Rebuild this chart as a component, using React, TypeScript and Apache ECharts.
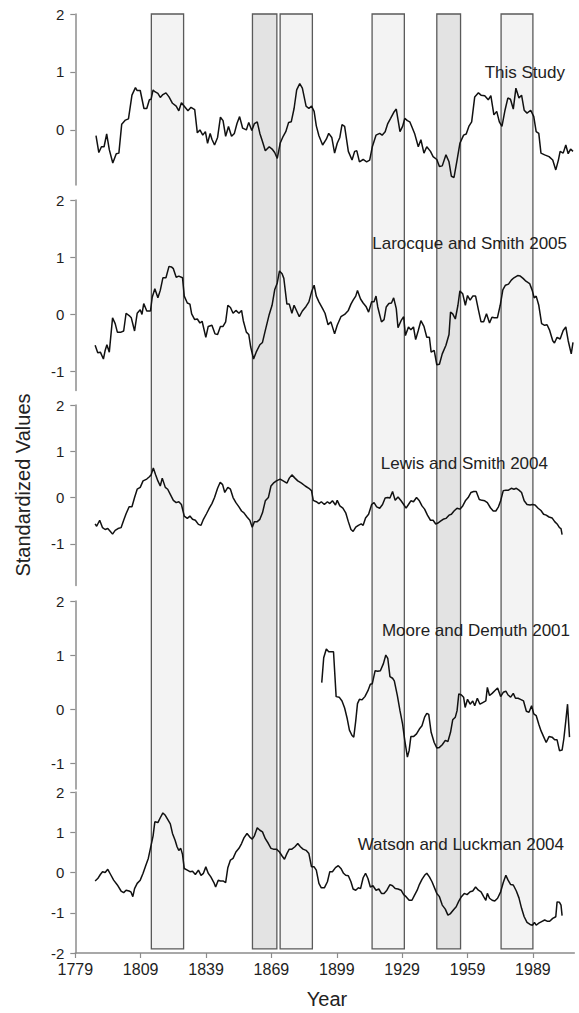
import React, { useEffect, useRef } from "react";
import * as echarts from "echarts";

// ---------- data (year, standardized value) ----------
const thisStudy: [number, number][] = [[1788.5,-0.10],[1789.8,-0.39],[1791,-0.29],[1792.2,-0.29],[1793.4,-0.07],[1794.6,-0.34],[1796.2,-0.57],[1797.8,-0.41],[1799,-0.40],[1800.3,0.10],[1802,0.17],[1803.4,0.19],[1805,0.60],[1806.6,0.73],[1807.4,0.68],[1808.8,0.68],[1810.5,0.37],[1811.8,0.37],[1813,0.52],[1813.8,0.53],[1814.7,0.69],[1815.5,0.66],[1816.9,0.63],[1818,0.56],[1819.2,0.61],[1820.6,0.64],[1822,0.57],[1823.6,0.46],[1825.3,0.41],[1826.5,0.33],[1827.7,0.47],[1829,0.41],[1830.7,0.33],[1832.1,0.39],[1833.8,0.35],[1835,-0.05],[1836.2,0],[1837.5,-0.09],[1838.7,-0.03],[1839.7,-0.23],[1840.9,-0.06],[1841.7,-0.16],[1842.9,-0.26],[1844.3,-0.13],[1845.6,0.22],[1846.8,0.16],[1848,-0.11],[1849.3,0.06],[1850.7,-0.11],[1852,-0.06],[1853.2,0.11],[1854.4,0.23],[1855.8,0.03],[1857.5,0],[1858.6,0.13],[1860,-0.01],[1861.2,0.11],[1862.5,0.14],[1863.7,-0.06],[1864.9,-0.2],[1866.2,-0.36],[1868,-0.29],[1869.3,-0.33],[1870.5,-0.39],[1871.7,-0.49],[1873,-0.23],[1874.4,-0.11],[1875.6,-0.03],[1876.9,0.13],[1878.1,0.14],[1879.4,0.37],[1880.6,0.69],[1882,0.80],[1883.2,0.72],[1884.9,0.41],[1886.2,0.37],[1887.4,0.41],[1888.6,0.32],[1889.6,0.07],[1890.8,-0.10],[1892.5,-0.26],[1894.2,-0.16],[1895.3,-0.06],[1896.7,-0.13],[1898,-0.40],[1899.2,-0.23],[1900.4,-0.13],[1901.4,0.09],[1902.6,0.06],[1904.3,-0.37],[1906,-0.52],[1907.2,-0.37],[1908.2,-0.36],[1909.4,-0.55],[1911.1,-0.51],[1912.7,-0.55],[1914.1,-0.52],[1915.3,-0.29],[1917,-0.09],[1918.7,-0.06],[1919.8,-0.09],[1921.2,-0.03],[1922.4,0.11],[1923.7,0.20],[1925.1,0.30],[1926.3,0.36],[1928,-0.03],[1929.2,0.06],[1930.2,0.20],[1931.4,0.16],[1932.5,0.14],[1933.5,0.05],[1934.7,-0.06],[1936.4,-0.29],[1937.6,-0.17],[1939,-0.40],[1940.3,-0.29],[1942,-0.37],[1943.2,-0.46],[1944.9,-0.51],[1946.1,-0.63],[1947.4,-0.62],[1949.1,-0.43],[1950.5,-0.55],[1951.6,-0.80],[1952.8,-0.82],[1954.2,-0.52],[1955.5,-0.23],[1957.2,-0.09],[1958.4,-0.07],[1959.6,0.06],[1960.9,0.14],[1962.3,0.57],[1964,0.64],[1965.2,0.60],[1966.9,0.59],[1968.5,0.52],[1969.7,0.59],[1971.1,0.26],[1972.4,0.32],[1973.6,0.14],[1974.8,0.06],[1976.2,0.34],[1977.5,0.55],[1978.7,0.53],[1980,0.36],[1981.2,0.72],[1982.6,0.55],[1983.8,0.60],[1985,0.34],[1986.3,0.29],[1988,0.34],[1989.4,0.23],[1990.5,-0.03],[1991.7,-0.06],[1992.7,-0.40],[1994.4,-0.43],[1996.4,-0.46],[1998.1,-0.52],[1999.5,-0.69],[2000.7,-0.52],[2001.5,-0.37],[2002.9,-0.40],[2004.1,-0.26],[2005.2,-0.41],[2006.3,-0.33],[2007.4,-0.37]];

const larocqueSmith2005: [number, number][] = [[1788.1,-0.54],[1789.3,-0.67],[1790.5,-0.66],[1791.9,-0.78],[1792.7,-0.63],[1793.5,-0.53],[1794.6,-0.66],[1796.1,-0.06],[1797.3,-0.16],[1798.3,-0.31],[1800,-0.31],[1801.2,-0.29],[1802.3,0.02],[1803.7,-0.02],[1804.7,-0.06],[1806.2,-0.29],[1807.4,0.02],[1808.8,0.08],[1809.6,0],[1810.4,0.19],[1811.8,0.06],[1813.5,0.06],[1814.3,0.30],[1815.5,0.45],[1816.9,0.29],[1818,0.42],[1819.2,0.64],[1820.6,0.64],[1822,0.84],[1823.1,0.83],[1824,0.80],[1825.3,0.65],[1826.5,0.67],[1828.2,0.64],[1829,0.32],[1830.4,0.20],[1831.6,0.18],[1832.4,0.01],[1833.8,-0.09],[1835,-0.08],[1836.2,-0.15],[1837.2,-0.12],[1838.9,-0.40],[1840,-0.21],[1841.7,-0.19],[1843.1,-0.34],[1844.3,-0.35],[1845.6,-0.21],[1846.8,-0.21],[1848,-0.13],[1849,0.16],[1850.2,0.12],[1851.4,0.02],[1852.7,0.07],[1854.1,0.02],[1855.3,0.07],[1856.1,-0.11],[1857.5,-0.31],[1858.6,-0.35],[1859.5,-0.57],[1860.8,-0.78],[1862,-0.66],[1863.7,-0.53],[1864.9,-0.49],[1866.2,-0.28],[1868,0],[1869.3,0.16],[1870.5,0.43],[1871.7,0.55],[1872.7,0.76],[1873.9,0.71],[1874.7,0.63],[1876.1,0.18],[1877.2,0.18],[1878.4,0.02],[1879.4,0.16],[1880.6,0.06],[1881.8,-0.04],[1883.2,0.06],[1884.9,0.14],[1886.2,0.22],[1887.4,0.39],[1888.6,0.51],[1889.6,0.32],[1890.8,0.22],[1892.5,0.10],[1893.6,0.02],[1895,-0.18],[1896.3,-0.13],[1898,-0.34],[1899.2,-0.19],[1900.9,-0.04],[1902.6,0],[1904.3,0.07],[1905.5,0.18],[1906.5,0.25],[1907.7,0.32],[1908.5,0.42],[1909.9,0.27],[1911.1,0.20],[1912.4,0.14],[1913.6,0.04],[1915,0.22],[1916.1,0.22],[1917,0.32],[1917.8,0.13],[1919.5,-0.13],[1920.7,-0.09],[1921.7,0.13],[1922.9,0.19],[1924.1,0.20],[1925.1,0.29],[1926.3,0.10],[1927.1,-0.23],[1928.5,-0.11],[1929.7,-0.04],[1930.5,-0.37],[1931.9,-0.22],[1933,-0.27],[1934.2,-0.22],[1935.2,-0.44],[1936.4,-0.28],[1937.6,-0.11],[1939,-0.21],[1940.3,-0.40],[1941.5,-0.40],[1942.3,-0.66],[1943.7,-0.63],[1944.9,-0.88],[1946.1,-0.87],[1947.4,-0.69],[1949.1,-0.54],[1950.5,-0.35],[1951.2,0.04],[1952.2,0.01],[1953.4,-0.08],[1954.6,0.16],[1955.5,0.41],[1956.8,0.36],[1958,0.16],[1959,0.33],[1960.2,0.25],[1961.4,0.32],[1962.7,0.32],[1964,0.08],[1965.2,-0.13],[1966.4,-0.13],[1967.7,0.01],[1969.1,-0.15],[1970.2,-0.05],[1971.3,-0.06],[1972.7,-0.06],[1974,0.16],[1975.2,0.43],[1976.4,0.51],[1977.8,0.53],[1979.1,0.60],[1980.3,0.64],[1982,0.68],[1983.2,0.67],[1984.5,0.63],[1985.8,0.58],[1987.5,0.54],[1988.7,0.42],[1989.6,0.29],[1990.5,0.32],[1991.7,0.16],[1993,-0.16],[1994.4,-0.19],[1995.5,-0.18],[1996.7,-0.28],[1998.1,-0.46],[1998.9,-0.50],[2000.1,-0.40],[2001.5,-0.43],[2002.9,-0.28],[2004.1,-0.22],[2005.2,-0.46],[2006.6,-0.69],[2007.4,-0.49]];

const lewisSmith2004: [number, number][] = [[1788.1,-0.57],[1788.8,-0.62],[1790.2,-0.49],[1791.5,-0.65],[1792.7,-0.69],[1793.9,-0.67],[1795.2,-0.74],[1796.1,-0.79],[1797.3,-0.71],[1798.6,-0.67],[1800,-0.65],[1801.2,-0.49],[1802.3,-0.35],[1803.7,-0.20],[1805,-0.20],[1806.2,0],[1807.4,0.18],[1808.8,0.22],[1810.1,0.36],[1811.8,0.40],[1813,0.45],[1813.8,0.49],[1814.8,0.64],[1815.9,0.49],[1816.9,0.36],[1818,0.25],[1818.9,0.42],[1820.3,0.22],[1821.4,0.18],[1822.6,0.07],[1824,-0.06],[1825.3,-0.11],[1826.5,-0.09],[1827.7,-0.15],[1829,-0.40],[1830.4,-0.45],[1831.6,-0.40],[1832.8,-0.47],[1834.1,-0.49],[1835.5,-0.58],[1836.7,-0.60],[1837.8,-0.47],[1839.2,-0.35],[1840.5,-0.23],[1841.7,-0.13],[1842.9,0],[1844.3,0.20],[1845.5,0.33],[1846.6,0.28],[1847.6,0.11],[1849,0.22],[1850.2,0.18],[1851.4,0],[1852.7,-0.11],[1854.1,-0.20],[1855.3,-0.29],[1856.4,-0.33],[1857.8,-0.42],[1859.1,-0.49],[1860.2,-0.64],[1861.2,-0.52],[1862.5,-0.52],[1863.7,-0.47],[1864.9,-0.33],[1866.2,-0.07],[1867.6,0],[1868.8,0.25],[1869.9,0.31],[1871.3,0.36],[1873,0.40],[1874.4,0.36],[1876.1,0.31],[1877.2,0.42],[1878.4,0.49],[1879.8,0.42],[1881.1,0.36],[1882.8,0.31],[1884.5,0.25],[1886.2,0.20],[1887.4,0.15],[1888.2,-0.06],[1889.6,-0.09],[1890.8,-0.13],[1891.9,-0.09],[1893.3,-0.15],[1894.7,-0.09],[1895.8,-0.13],[1897,-0.07],[1898.4,-0.16],[1899.2,-0.06],[1900.4,-0.18],[1901.8,-0.23],[1903.1,-0.33],[1904.3,-0.52],[1905.5,-0.69],[1906.5,-0.73],[1907.7,-0.64],[1908.9,-0.60],[1910.2,-0.57],[1911.1,-0.60],[1912.2,-0.44],[1913.6,-0.36],[1915,-0.15],[1916.1,-0.11],[1917.3,-0.20],[1918.7,-0.23],[1920,-0.15],[1921.2,-0.01],[1922.4,0],[1923.4,-0.01],[1924.6,0.13],[1925.8,-0.06],[1927.1,0.01],[1928.5,-0.07],[1929.7,-0.15],[1930.8,-0.23],[1931.9,-0.15],[1933,-0.07],[1934.2,-0.09],[1935.6,0],[1936.9,-0.07],[1938.1,-0.18],[1939.3,-0.25],[1940.6,-0.38],[1942,-0.49],[1943.2,-0.49],[1944.4,-0.57],[1945.4,-0.55],[1946.6,-0.51],[1947.8,-0.47],[1949.1,-0.45],[1950.5,-0.38],[1951.6,-0.36],[1952.8,-0.29],[1954.2,-0.23],[1955.5,-0.25],[1956.8,-0.18],[1958,-0.07],[1959.3,0],[1960.6,0.11],[1961.8,0.13],[1963,0.13],[1964.4,-0.04],[1965.7,-0.06],[1966.9,-0.07],[1968.1,-0.11],[1969.5,-0.22],[1970.8,-0.29],[1972,-0.29],[1973.2,-0.20],[1974.2,-0.07],[1975.4,0.15],[1976.6,0.16],[1977.8,0.16],[1979.1,0.20],[1980.3,0.18],[1981.4,0.20],[1982.6,0.16],[1983.8,0.11],[1985,-0.07],[1986.3,-0.15],[1987.7,-0.16],[1988.8,-0.15],[1990,-0.16],[1991.4,-0.23],[1992.7,-0.28],[1993.9,-0.36],[1995.1,-0.38],[1996.4,-0.42],[1997.8,-0.44],[1999,-0.52],[2000.1,-0.57],[2001.2,-0.65],[2001.9,-0.67],[2002.4,-0.80]];

const mooreDemuth2001: [number, number][] = [[1892.1,0.49],[1893,0.95],[1894.2,1.11],[1895.3,1.06],[1896.3,1.06],[1897.5,1.06],[1898.7,0.23],[1900.1,0.22],[1901.4,0.15],[1902.6,0.02],[1903.8,-0.18],[1904.8,-0.39],[1906,-0.49],[1906.8,-0.52],[1907.7,-0.22],[1908.5,0.10],[1909.4,0.18],[1910.6,0.17],[1911.9,0.23],[1913.3,0.34],[1914.4,0.46],[1915.3,0.47],[1916.6,0.71],[1917.8,0.70],[1919,0.71],[1920.4,0.84],[1921.5,1.00],[1922.4,0.94],[1923.4,0.60],[1924.6,0.57],[1925.4,0.52],[1926.8,0.25],[1928,-0.03],[1929.2,-0.28],[1930.2,-0.58],[1931.4,-0.89],[1932.2,-0.77],[1933,-0.51],[1934.2,-0.51],[1935.6,-0.46],[1936.9,-0.37],[1938.1,-0.31],[1939.3,-0.15],[1940.3,-0.08],[1941.2,-0.10],[1942.3,-0.43],[1943.7,-0.62],[1944.9,-0.72],[1946.1,-0.71],[1947.4,-0.66],[1948.8,-0.58],[1950,-0.60],[1951.2,-0.43],[1952.2,-0.20],[1953.4,-0.15],[1954.2,-0.03],[1955,0.28],[1956.2,0.26],[1957.2,0.22],[1957.9,0.03],[1959,0.18],[1960.2,0.09],[1961.4,0.15],[1962.3,0.06],[1963.5,0.20],[1964.7,0.09],[1966,0.12],[1967.4,0.15],[1968.1,0.40],[1969.1,0.25],[1970.3,0.29],[1971.5,0.34],[1972.8,0.39],[1974.2,0.23],[1975.4,0.31],[1976.6,0.33],[1977.6,0.26],[1978.8,0.22],[1980,0.29],[1981,0.20],[1982.2,0.20],[1983.3,0.18],[1984.7,0.15],[1986,-0.04],[1987.2,-0.06],[1988.4,0.06],[1989.4,-0.09],[1990.5,-0.12],[1991.7,-0.28],[1992.7,-0.40],[1993.9,-0.51],[1995.1,-0.62],[1996.4,-0.51],[1997.8,-0.52],[1999,-0.57],[2000.1,-0.57],[2001.2,-0.77],[2002.4,-0.76],[2003.2,-0.55],[2004.1,-0.22],[2004.9,0.09],[2005.8,-0.52]];

const watsonLuckman2004: [number, number][] = [[1788.1,-0.21],[1789.3,-0.15],[1790.5,-0.05],[1791.5,0.02],[1792.7,0],[1793.9,0.08],[1795.2,-0.05],[1796.6,-0.19],[1798.3,-0.31],[1800,-0.46],[1801.2,-0.50],[1802.3,-0.44],[1803.7,-0.46],[1804.5,-0.48],[1805.4,-0.60],[1806.2,-0.40],[1807.4,-0.27],[1808.8,-0.19],[1810.1,-0.02],[1811.3,0.17],[1812.5,0.35],[1813.8,0.68],[1814.7,0.91],[1815.5,1.26],[1816.9,1.24],[1818,1.36],[1819.2,1.48],[1820.3,1.42],[1821.4,1.32],[1822.6,1.21],[1823.6,0.97],[1824.8,0.80],[1825.7,0.64],[1826.5,0.55],[1827.4,0.60],[1828.2,0.45],[1829,0.10],[1830.4,0.06],[1831.6,0.02],[1832.8,0.03],[1834.1,-0.05],[1835.5,0.06],[1836.7,-0.07],[1837.8,-0.02],[1838.9,0.14],[1840,-0.02],[1841.2,-0.11],[1842.6,-0.25],[1843.4,-0.36],[1844.6,-0.19],[1845.6,-0.21],[1846.8,-0.21],[1848,-0.25],[1849,0.12],[1850.2,0.31],[1851.4,0.35],[1852.7,0.51],[1854.1,0.60],[1855.3,0.72],[1856.4,0.86],[1857.8,0.97],[1859.1,0.88],[1860.2,0.83],[1861.2,0.91],[1862.5,1.11],[1863.7,1.05],[1864.9,1.01],[1866.2,0.84],[1867.6,0.72],[1868.8,0.60],[1869.9,0.58],[1871.3,0.58],[1872.7,0.51],[1873.9,0.41],[1875,0.33],[1876.1,0.47],[1877.2,0.58],[1878.4,0.58],[1879.8,0.64],[1881.1,0.72],[1882.3,0.64],[1883.5,0.58],[1884.9,0.55],[1886.2,0.47],[1887.4,0.14],[1888.6,0.14],[1889.6,0.06],[1890.8,-0.27],[1891.9,-0.38],[1893.3,-0.38],[1894.7,-0.23],[1895.8,0.02],[1897,0.02],[1898.4,0.12],[1899.7,0.17],[1900.9,0.10],[1902.1,-0.02],[1903.1,-0.07],[1904.3,-0.08],[1905.5,-0.23],[1906.5,-0.41],[1907.7,-0.44],[1908.9,-0.38],[1909.9,-0.40],[1911.1,-0.13],[1912.2,-0.02],[1913.3,-0.15],[1914.4,-0.36],[1915.6,-0.33],[1917,-0.44],[1918.3,-0.41],[1919.5,-0.52],[1920.7,-0.52],[1922,-0.44],[1923.4,-0.30],[1924.6,-0.33],[1925.8,-0.40],[1927.1,-0.41],[1928.5,-0.44],[1929.7,-0.55],[1930.8,-0.60],[1932.2,-0.69],[1933.5,-0.69],[1934.7,-0.56],[1935.9,-0.44],[1936.9,-0.30],[1938.1,-0.17],[1939.3,-0.07],[1940.3,-0.02],[1941.5,-0.11],[1942.7,-0.23],[1944,-0.40],[1944.9,-0.52],[1946.1,-0.60],[1947.4,-0.81],[1948.8,-0.91],[1950,-1.06],[1951.2,-1.02],[1952.5,-0.93],[1953.8,-0.85],[1955,-0.71],[1956.2,-0.60],[1957.5,-0.52],[1958.8,-0.55],[1960.2,-0.48],[1961.4,-0.46],[1962.7,-0.36],[1964,-0.44],[1965.2,-0.48],[1966.4,-0.60],[1967.4,-0.69],[1968.1,-0.52],[1969.1,-0.64],[1970.3,-0.69],[1971.5,-0.71],[1972.8,-0.64],[1974.2,-0.48],[1975.4,-0.25],[1976.6,-0.07],[1977.6,-0.19],[1978.8,-0.30],[1980,-0.31],[1981.4,-0.46],[1982.6,-0.63],[1983.8,-0.89],[1985,-1.10],[1986.3,-1.24],[1987.7,-1.29],[1988.8,-1.31],[1989.7,-1.24],[1990.5,-1.31],[1991.7,-1.26],[1993,-1.22],[1994.4,-1.18],[1995.5,-1.21],[1996.7,-1.21],[1998.1,-1.14],[1999.5,-1.10],[2000.1,-0.73],[2001.2,-0.74],[2001.9,-0.81],[2002.4,-1.07]];

const seriesNames = ["This Study", "Larocque and Smith 2005", "Lewis and Smith 2004", "Moore and Demuth 2001", "Watson and Luckman 2004"];
const seriesData = [thisStudy, larocqueSmith2005, lewisSmith2004, mooreDemuth2001, watsonLuckman2004];

// shaded periods (years)
const shadedStart = [1813.9, 1860.3, 1873.0, 1915.2, 1944.9, 1974.4];
const shadedEnd = [1828.7, 1871.5, 1887.8, 1930.0, 1955.8, 1989.0];
const shadedDark = [0, 1, 0, 0, 1, 0];

const xTicks = [1779, 1809, 1839, 1869, 1899, 1929, 1959, 1989];
const yMinByPanel = [-0.95, -1.33, -1.9, -1.48, -2];
const yTicksByPanel = [[0, 1, 2], [-1, 0, 1, 2], [-1, 0, 1, 2], [-1, 0, 1, 2], [-2, -1, 0, 1, 2]];

// layout (pixels)
const panelTop = [14, 200, 405, 601, 792];
const panelHeight = [171, 190.5, 180.5, 188, 161];
const gridLeft = 75.3;
const gridRight = 4.7;
const labelRight = [565, 567, 548, 570, 564];
const labelY = [72, 243, 463, 630, 844];

const FONT = '"Liberation Sans", Arial, Helvetica, sans-serif';
const AXIS_COLOR = "#8c8c8c";
const TEXT_COLOR = "#1e1e1e";

export default function App() {
  const ref = useRef<HTMLDivElement>(null);
  useEffect(() => {
    document.body.style.margin = "0";
    if (!ref.current) return;
    const chart = echarts.init(ref.current, undefined, { renderer: "svg" });

    const grids: any[] = panelTop.map((t, i) => ({ left: gridLeft, right: gridRight, top: t, height: panelHeight[i] }));
    grids.push({ left: gridLeft, right: gridRight, top: 14, height: 939 });

    const xAxes: any[] = grids.map((_, i) => {
      const shown = i === 4;
      return {
        type: "value",
        gridIndex: i,
        min: 1779,
        max: 2008,
        show: shown,
        axisLine: { show: shown, onZero: false, lineStyle: { color: AXIS_COLOR, width: 1.5 } },
        axisTick: { show: shown, length: 5, customValues: xTicks, lineStyle: { color: AXIS_COLOR, width: 1.2 } },
        axisLabel: {
          show: shown,
          customValues: xTicks,
          formatter: (v: number) => String(v),
          fontSize: 16,
          color: TEXT_COLOR,
          fontFamily: FONT,
          margin: 8,
        },
        splitLine: { show: false },
      };
    });

    const yAxes: any[] = panelTop.map((_, i) => ({
      type: "value",
      gridIndex: i,
      min: yMinByPanel[i],
      max: 2,
      axisLine: { show: true, onZero: false, lineStyle: { color: AXIS_COLOR, width: 1.5 } },
      axisTick: { show: true, length: 5, customValues: yTicksByPanel[i], lineStyle: { color: AXIS_COLOR, width: 1.2 } },
      axisLabel: { customValues: yTicksByPanel[i], fontSize: 15, color: TEXT_COLOR, fontFamily: FONT, margin: 11 },
      splitLine: { show: false },
    }));
    yAxes.push({ type: "value", gridIndex: 5, min: 0, max: 1, show: false });

    const barBottom = 0.0043;
    const series: any[] = [
      {
        type: "custom",
        xAxisIndex: 5,
        yAxisIndex: 5,
        z: 1,
        clip: false,
        encode: { x: [0, 1] },
        data: shadedStart.map((s, i) => [s, shadedEnd[i], shadedDark[i]]),
        renderItem: (_p: any, api: any) => {
          const a = api.coord([api.value(0), 1]);
          const b = api.coord([api.value(1), barBottom]);
          return {
            type: "rect",
            shape: { x: a[0], y: a[1], width: b[0] - a[0], height: b[1] - a[1] },
            style: { fill: api.value(2) ? "#e3e3e3" : "#f3f3f3", stroke: "#5a5a5a", lineWidth: 1.3 },
          };
        },
      },
      ...seriesData.map((d, i) => ({
        type: "line",
        name: seriesNames[i],
        xAxisIndex: i,
        yAxisIndex: i,
        data: d,
        showSymbol: false,
        symbol: "none",
        z: 5,
        lineStyle: { color: "#111", width: 1.5 },
      })),
    ];

    const graphic: any[] = [
      ...seriesNames.map((n, i) => ({
        type: "text",
        z: 10,
        x: labelRight[i],
        y: labelY[i],
        style: { text: n, fill: "#222", font: `17px ${FONT}`, textAlign: "right", textVerticalAlign: "middle" },
      })),
      {
        type: "text",
        z: 10,
        x: 23,
        y: 485,
        rotation: Math.PI / 2,
        style: { text: "Standardized Values", fill: "#222", font: `20px ${FONT}`, textAlign: "center", textVerticalAlign: "middle" },
      },
      {
        type: "text",
        z: 10,
        x: 327,
        y: 999,
        style: { text: "Year", fill: "#222", font: `20px ${FONT}`, textAlign: "center", textVerticalAlign: "middle" },
      },
    ];

    chart.setOption({
      animation: false,
      backgroundColor: "#fff",
      grid: grids,
      xAxis: xAxes,
      yAxis: yAxes,
      series,
      graphic,
    });
    return () => chart.dispose();
  }, []);
  return <div ref={ref} style={{ width: 579, height: 1013 }} />;
}
